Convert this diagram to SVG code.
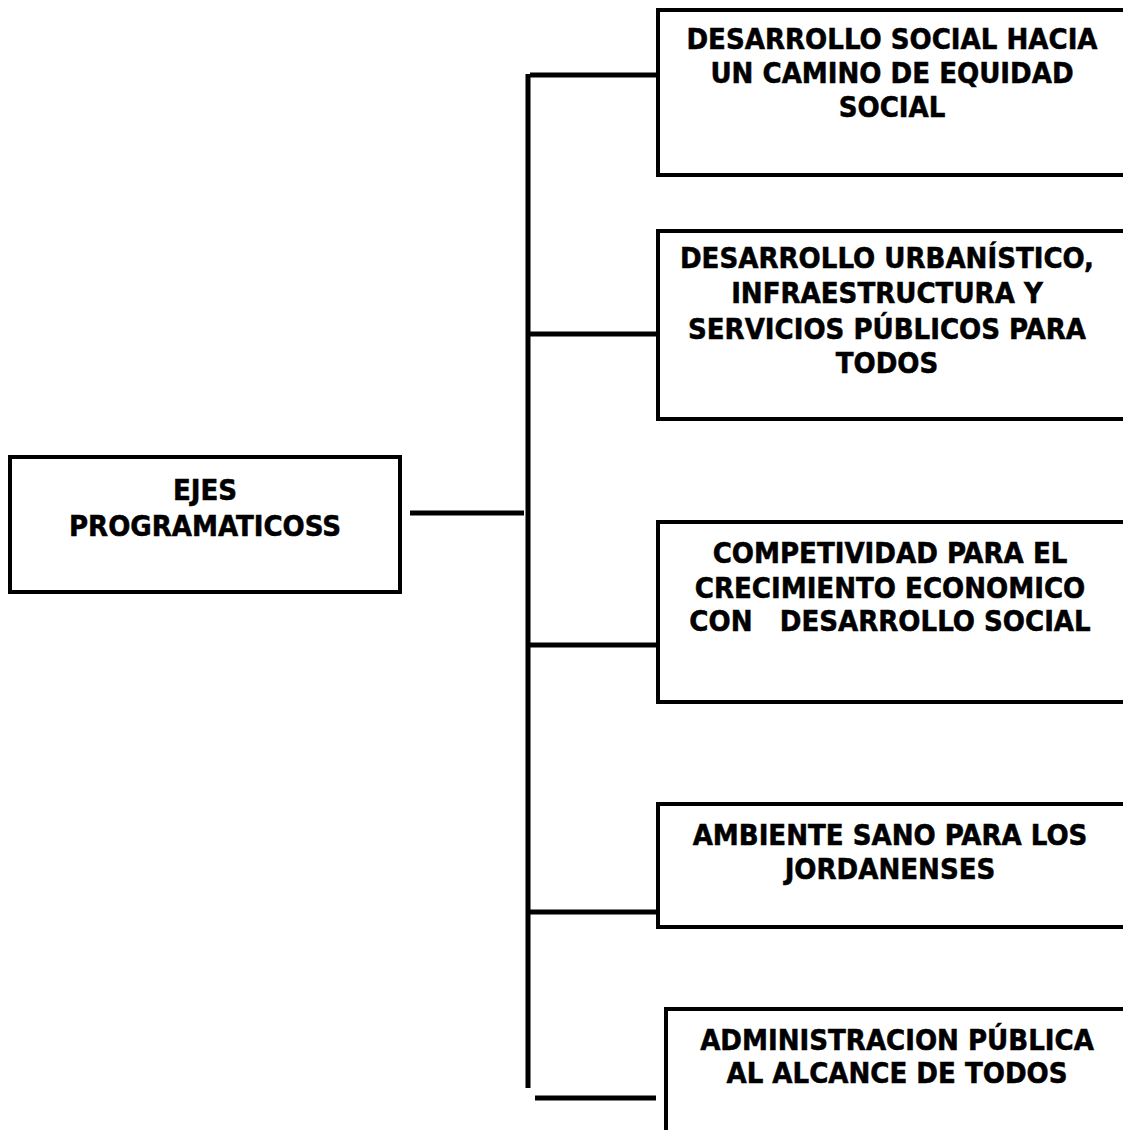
<svg xmlns="http://www.w3.org/2000/svg" width="1123" height="1130" viewBox="0 0 1123 1130">
<style>
.box{fill:#fff;stroke:#000;stroke-width:4}
.t{font-family:"DejaVu Sans Condensed","DejaVu Sans","Liberation Sans",sans-serif;font-weight:bold;font-size:29px;fill:#000;stroke:#000;stroke-width:0.5;text-anchor:middle}
.c{stroke:#000;stroke-width:5;fill:none}
</style>
<rect width="1123" height="1130" fill="#fff"/>
<g id="connectors">
<line class="c" x1="410" y1="513" x2="524" y2="513"/>
<line class="c" x1="528" y1="74" x2="528" y2="1088"/>
<line class="c" x1="530" y1="75" x2="657" y2="75"/>
<line class="c" x1="530" y1="334" x2="657" y2="334"/>
<line class="c" x1="530" y1="645" x2="657" y2="645"/>
<line class="c" x1="530" y1="912" x2="657" y2="912"/>
<line class="c" x1="535" y1="1098" x2="656" y2="1098"/>
</g>
<g id="root">
<rect class="box" x="10" y="457" width="390" height="135"/>
<text class="t" x="205" y="500">EJES</text>
<text class="t" x="205" y="536">PROGRAMATICOSS</text>
</g>
<g id="eje1">
<rect class="box" x="658" y="10" width="480" height="165"/>
<text class="t" x="892" y="49">DESARROLLO SOCIAL HACIA</text>
<text class="t" x="892" y="83">UN CAMINO DE EQUIDAD</text>
<text class="t" x="892" y="117">SOCIAL</text>
</g>
<g id="eje2">
<rect class="box" x="658" y="231" width="480" height="188"/>
<text class="t" x="887" y="268">DESARROLLO URBANÍSTICO,</text>
<text class="t" x="887" y="303">INFRAESTRUCTURA Y</text>
<text class="t" x="887" y="339">SERVICIOS PÚBLICOS PARA</text>
<text class="t" x="887" y="373">TODOS</text>
</g>
<g id="eje3">
<rect class="box" x="658" y="522" width="480" height="180"/>
<text class="t" x="890" y="563">COMPETIVIDAD PARA EL</text>
<text class="t" x="890" y="598">CRECIMIENTO ECONOMICO</text>
<text class="t" x="890" y="631" xml:space="preserve">CON   DESARROLLO SOCIAL</text>
</g>
<g id="eje4">
<rect class="box" x="658" y="804" width="480" height="123"/>
<text class="t" x="890" y="845">AMBIENTE SANO PARA LOS</text>
<text class="t" x="890" y="879">JORDANENSES</text>
</g>
<g id="eje5">
<rect class="box" x="666" y="1009" width="480" height="140"/>
<text class="t" x="897" y="1050">ADMINISTRACION PÚBLICA</text>
<text class="t" x="897" y="1083">AL ALCANCE DE TODOS</text>
</g>
</svg>
